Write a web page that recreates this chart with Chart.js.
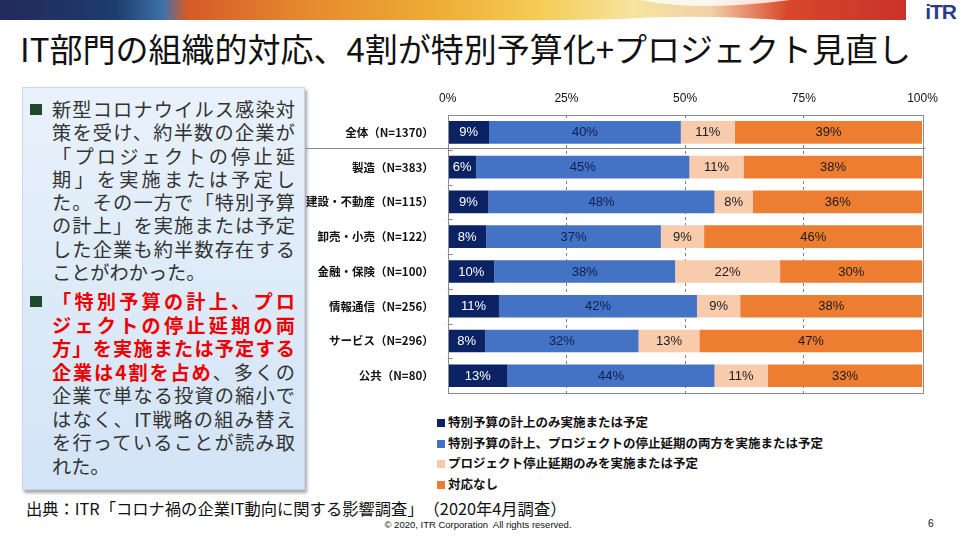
<!DOCTYPE html>
<html><head><meta charset="utf-8">
<script src="https://cdn.jsdelivr.net/npm/chart.js@4.4.1/dist/chart.umd.min.js"></script>
<style>
html,body{margin:0;padding:0}
body{width:960px;height:540px;overflow:hidden;background:#fff;position:relative;font-family:"Noto Sans CJK JP","Noto Sans",sans-serif;color:#000;text-spacing-trim:space-all}
#banner{position:absolute;left:0;top:0;width:960px;height:24px}
#logo{position:absolute;left:906px;top:0;width:54px;height:23px;background:#fff;font-family:"Liberation Sans",Arial,sans-serif;font-weight:bold;font-size:21px;color:#2a3a8f;line-height:23px;text-align:right;padding-right:4px;box-sizing:border-box;letter-spacing:-1px}
#title{position:absolute;left:20px;top:26px;width:920px;font-size:33px;line-height:44px;white-space:nowrap;color:#111;font-weight:400}
#box{position:absolute;left:22px;top:87px;width:283px;height:403px;box-sizing:border-box;border:1px solid #c9d8ea;background:linear-gradient(180deg,#e9f2fc 0%,#dbe9f8 60%,#d3e4f7 100%);box-shadow:2px 3px 3px rgba(0,0,0,0.35);padding-top:10px}
.para{position:relative;padding-left:29px;width:243px;font-size:19.2px;line-height:23.3px;color:#333}
.para .ln{display:block;height:23.3px;white-space:nowrap;text-align:justify;text-align-last:justify}
.para .ln.last{text-align:left;text-align-last:left}
.para .bul{position:absolute;left:7px;top:6px;width:12px;height:11px;background:#1d4a2a}
.red{color:#ee0000;font-weight:bold}
#p2{margin-top:6px;line-height:23.5px}
#p2 .ln{height:23.5px}
#chartwrap{position:absolute;left:300px;top:88px;width:660px;height:318px}
#legend{position:absolute;left:437px;top:412px;font-size:12.5px;font-weight:bold;color:#111}
#legend .it{height:20.7px;line-height:20.7px;white-space:nowrap}
#legend .sq{display:inline-block;width:8px;height:8px;margin-right:3px;vertical-align:0px}
#source{position:absolute;left:26px;top:497px;font-size:16.3px;line-height:22px;white-space:nowrap;color:#111}
#copy{position:absolute;left:0;width:956px;top:519px;text-align:center;font-family:"Liberation Sans",Arial,sans-serif;font-size:9.5px;color:#111}
#page{position:absolute;left:928px;top:518px;font-family:"Liberation Sans",Arial,sans-serif;font-size:10px;color:#111}
</style></head>
<body>
<svg id="banner" width="960" height="24" viewBox="0 0 960 24">
<defs><linearGradient id="g" x1="0" x2="1" y1="0" y2="0">
<stop offset="0" stop-color="#232a5c"/><stop offset="0.12" stop-color="#1d3c6c"/><stop offset="0.17" stop-color="#3d72a8"/><stop offset="0.195" stop-color="#d65a28"/><stop offset="0.32" stop-color="#e68a2e"/><stop offset="0.45" stop-color="#edab34"/><stop offset="0.56" stop-color="#f5cc55"/><stop offset="0.66" stop-color="#f7e4a0"/><stop offset="0.74" stop-color="#f2d0a8"/><stop offset="0.82" stop-color="#d8472b"/><stop offset="1" stop-color="#c4282a"/></linearGradient></defs>
<path d="M0 0 H960 V20 H780 Q700 14 620 19 Q540 21 420 20 H0 Z" fill="url(#g)"/>
<path d="M640 0 Q700 12 790 0 Z" fill="#fff" opacity="0.8"/>
</svg>
<div id="logo">iTR</div>
<div id="title">IT部門の組織的対応、4割が特別予算化+プロジェクト見直し</div>
<div id="box">
  <div class="para" id="p1"><span class="bul"></span>
    <span class="ln">新型コロナウイルス感染対</span>
    <span class="ln">策を受け、約半数の企業が</span>
    <span class="ln">「プロジェクトの停止延</span>
    <span class="ln">期」を実施または予定し</span>
    <span class="ln">た。その一方で「特別予算</span>
    <span class="ln">の計上」を実施または予定</span>
    <span class="ln">した企業も約半数存在する</span>
    <span class="ln last">ことがわかった。</span>
  </div>
  <div class="para" id="p2"><span class="bul"></span>
    <span class="ln red">「特別予算の計上、プロ</span>
    <span class="ln red">ジェクトの停止延期の両</span>
    <span class="ln red">方」を実施または予定する</span>
    <span class="ln"><span class="red">企業は4割を占め</span>、多くの</span>
    <span class="ln">企業で単なる投資の縮小で</span>
    <span class="ln">はなく、IT戦略の組み替え</span>
    <span class="ln">を行っていることが読み取</span>
    <span class="ln last">れた。</span>
  </div>
</div>
<div id="chartwrap"><canvas id="c" width="660" height="318"></canvas></div>
<div id="legend"></div>
<div id="source">出典：ITR「コロナ禍の企業IT動向に関する影響調査」（2020年4月調査）</div>
<div id="copy">© 2020, ITR Corporation&nbsp; All rights reserved.</div>
<div id="page">6</div>
<script>
const categories = ['全体（N=1370）','製造（N=383）','建設・不動産（N=115）','卸売・小売（N=122）','金融・保険（N=100）','情報通信（N=256）','サービス（N=296）','公共（N=80）'];
const seriesNames = ['特別予算の計上のみ実施または予定','特別予算の計上、プロジェクトの停止延期の両方を実施または予定','プロジェクト停止延期のみを実施または予定','対応なし'];
const budgetOnly  = [8.7, 6.0, 8.6, 8.1, 9.8, 10.8, 7.9, 12.6];
const both        = [40.4, 44.9, 47.6, 36.8, 38.1, 41.7, 32.3, 43.6];
const projectOnly = [11.4, 11.4, 8.1, 9.1, 22.1, 9.1, 12.8, 11.2];
const noAction    = [39.4, 37.7, 35.7, 46.0, 30.0, 38.4, 47.0, 32.6];
const xTicks = [0, 25, 50, 75, 100];

const seriesValues = [budgetOnly, both, projectOnly, noAction];
const colors = ['#0b2364', '#4472c4', '#f8cbad', '#ed7d31'];
const labelColors = ['#ffffff', '#0d1f4f', '#1a1a1a', '#1a1a1a'];

const legend = document.getElementById('legend');
seriesNames.forEach((n, i) => {
  const d = document.createElement('div'); d.className = 'it';
  d.innerHTML = '<span class="sq" style="background:' + colors[i] + '"></span>' + n;
  legend.appendChild(d);
});

const decor = {
  id: 'decor',
  afterDatasetsDraw(chart) {
    const {ctx, chartArea: a, scales: {x, y}} = chart;
    ctx.save();
    ctx.font = '13px "Liberation Sans", Arial, sans-serif';
    ctx.textAlign = 'center'; ctx.textBaseline = 'middle';
    chart.data.datasets.forEach((ds, di) => {
      const meta = chart.getDatasetMeta(di);
      meta.data.forEach((el, i) => {
        const v = ds.data[i];
        ctx.fillStyle = labelColors[di];
        ctx.fillText(Math.round(v) + '%', (el.x + el.base) / 2, el.y + 0.5);
      });
    });
    ctx.strokeStyle = '#8c8c8c'; ctx.lineWidth = 1;
    ctx.strokeRect(Math.round(a.left) + 0.5, Math.round(a.top) + 0.5, Math.round(a.right - a.left), Math.round(a.bottom - a.top));
    for (let i = 1; i < categories.length; i++) {
      const yy = Math.round((y.getPixelForValue(i - 1) + y.getPixelForValue(i)) / 2) + 0.5;
      ctx.beginPath(); ctx.moveTo(a.left, yy); ctx.lineTo(a.left + 5, yy); ctx.stroke();
    }
    const sy = Math.round((y.getPixelForValue(0) + y.getPixelForValue(1)) / 2) - 2 + 0.5;
    ctx.strokeStyle = '#8a8a8a';
    ctx.beginPath(); ctx.moveTo(5, sy); ctx.lineTo(a.right + 3, sy); ctx.stroke();
    ctx.restore();
  }
};

new Chart(document.getElementById('c'), {
  type: 'bar',
  data: {
    labels: categories,
    datasets: seriesValues.map((vals, i) => ({
      label: seriesNames[i], data: vals, backgroundColor: colors[i],
      borderWidth: 0, barPercentage: 0.65, categoryPercentage: 1
    }))
  },
  options: {
    indexAxis: 'y', responsive: false, animation: false,
    layout: {padding: {left: 0, right: 37.5, top: 0, bottom: 2}},
    plugins: {legend: {display: false}, tooltip: {enabled: false}},
    scales: {
      x: {
        stacked: true, position: 'top', min: 0, max: 100,
        afterBuildTicks(s) { s.ticks = xTicks.map(v => ({value: v})); },
        afterFit(s) { s.height = 27; },
        ticks: {padding: 9, color: '#111', font: {family: '"Liberation Sans", Arial, sans-serif', size: 12}, callback: v => v + '%'},
        grid: {drawTicks: false, color: c => (c.tick && (c.tick.value === 0 || c.tick.value === 100)) ? 'rgba(0,0,0,0)' : '#7f7f7f'},
        border: {display: false, dash: [3, 3]}
      },
      y: {
        stacked: true,
        afterFit(s) { s.width = 147.7; },
        ticks: {padding: 6, color: '#111', font: {family: '"Noto Sans CJK JP", sans-serif', size: 11.5, weight: 'bold'}},
        grid: {display: false},
        border: {display: false}
      }
    }
  },
  plugins: [decor]
});
</script>
</body></html>
